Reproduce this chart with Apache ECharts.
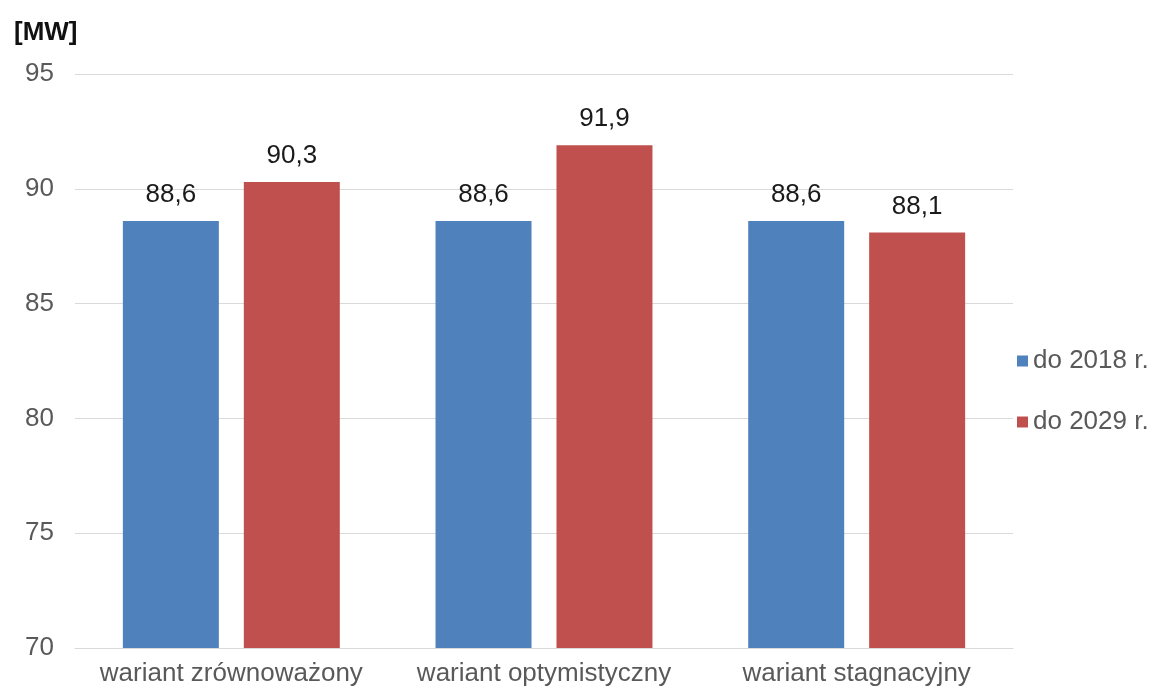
<!DOCTYPE html>
<html><head><meta charset="utf-8">
<script src="https://cdn.jsdelivr.net/npm/echarts@6/dist/echarts.min.js"></script>
<style>html,body{margin:0;padding:0;background:#fff}#c{width:1154px;height:693px}</style>
</head><body><div id="c"></div>
<script>
const categories = ['wariant zrównoważony', 'wariant optymistyczny', 'wariant stagnacyjny'];
const seriesNames = ['do 2018 r.', 'do 2029 r.'];
const values2018 = [88.6, 88.6, 88.6];
const values2029 = [90.3, 91.9, 88.1];
const unitLabel = '[MW]';

const chart = echarts.init(document.getElementById('c'));
const font = 'Liberation Sans, Arial, sans-serif';
const lbl = {
  show: true, position: 'top', distance: 13, color: '#1a1a1a', fontSize: 26, fontFamily: font,
  formatter: p => String(p.value).replace('.', ',')
};
chart.setOption({
  animation: false,
  title: { text: unitLabel, left: 9, top: 15, textStyle: { fontFamily: font, fontSize: 26, fontWeight: 'bold', color: '#111' } },
  legend: {
    orient: 'vertical', left: 1012, top: 343, itemWidth: 11, itemHeight: 11, itemGap: 35,
    icon: 'rect', itemTextGap: 5,
    textStyle: { fontFamily: font, fontSize: 26, color: '#595959' },
    data: seriesNames
  },
  grid: { left: 75, right: 141, top: 74, bottom: 45, containLabel: false },
  xAxis: {
    type: 'category', data: categories,
    axisLine: { lineStyle: { color: '#d9d9d9' } },
    axisTick: { show: false },
    axisLabel: { fontFamily: font, fontSize: 26, color: '#595959', margin: 13, interval: 0, hideOverlap: false }
  },
  yAxis: {
    type: 'value', min: 70, max: 95, interval: 5,
    axisLine: { show: false }, axisTick: { show: false },
    splitLine: { lineStyle: { color: '#d9d9d9' } },
    axisLabel: { fontFamily: font, fontSize: 26, color: '#595959', margin: 21 }
  },
  series: [
    { name: seriesNames[0], type: 'bar', data: values2018, barWidth: '30.7%', barGap: '26%', itemStyle: { color: '#4F81BD' }, label: lbl },
    { name: seriesNames[1], type: 'bar', data: values2029, barWidth: '30.7%', itemStyle: { color: '#C0504D' }, label: lbl }
  ]
});
</script></body></html>
